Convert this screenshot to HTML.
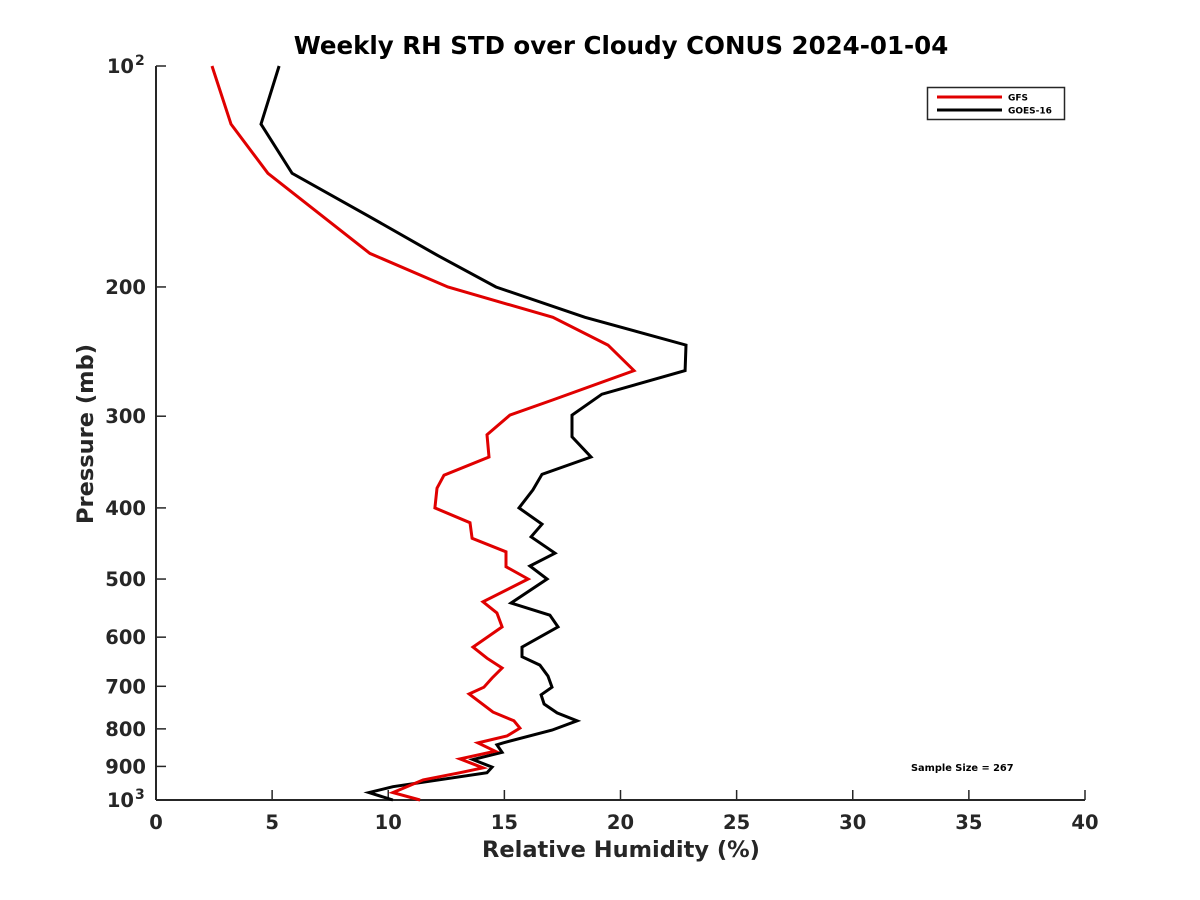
<!DOCTYPE html>
<html><head><meta charset="utf-8"><style>
html,body{margin:0;padding:0;background:#fff;}
svg{display:block;font-family:"DejaVu Sans","Liberation Sans",sans-serif;}
</style></head><body>
<svg id="chart" width="1200" height="900" viewBox="0 0 1200 900">
<rect width="1200" height="900" fill="#fff"/>
<text x="621" y="54" text-anchor="middle" font-size="24.5" font-weight="bold" fill="#000">Weekly RH STD over Cloudy CONUS 2024-01-04</text>
<g id="axes"></g>
<g id="series"></g>
<text x="621" y="857" text-anchor="middle" font-size="22.5" font-weight="bold" fill="#262626">Relative Humidity (%)</text>
<text transform="translate(93,434) rotate(-90)" text-anchor="middle" font-size="22.5" font-weight="bold" fill="#262626">Pressure (mb)</text>
<text x="911" y="771" font-size="9.8" font-weight="bold" fill="#000">Sample Size = 267</text>
<g>
<rect x="927.5" y="87.5" width="137" height="32" fill="#fff" stroke="#262626" stroke-width="1.5"/>
<line x1="937" y1="97" x2="1002" y2="97" stroke="#e00000" stroke-width="3"/>
<text x="1008" y="100.5" font-size="9" font-weight="bold" fill="#000">GFS</text>
<line x1="937" y1="110" x2="1002" y2="110" stroke="#000" stroke-width="3"/>
<text x="1008" y="113.5" font-size="9" font-weight="bold" fill="#000">GOES-16</text>
</g>
</svg>
<script>
const xTicks = [0,5,10,15,20,25,30,35,40];
const yTicks = [100,200,300,400,500,600,700,800,900,1000];
const yTickLabels = ["10^2","200","300","400","500","600","700","800","900","10^3"];
const gfsRH = [2.41,3.23,4.82,9.21,12.57,17.09,19.46,20.58,17.09,15.24,14.25,14.34,12.40,12.10,12.01,13.52,13.61,15.07,15.07,16.02,14.08,14.68,14.90,13.65,14.25,14.90,14.47,14.12,13.48,14.51,15.41,15.67,15.11,13.86,14.60,13.09,14.08,13.09,11.50,10.20,11.37];
const gfsP = [100,120,140,180,200,220,240,260,285,299,318,341,361,376,400,419,440,459,481,500,537,556,581,619,641,661,682,702,717,759,780,798,818,836,858,879,904,918,939,977,1000];
const goesRH = [5.30,4.52,5.86,9.13,12.10,14.64,18.47,22.82,22.78,19.20,17.91,17.91,18.73,16.62,16.23,15.63,16.62,16.15,17.18,16.10,16.84,15.29,16.96,17.31,15.76,15.76,16.53,16.88,17.05,16.58,16.71,17.27,18.13,17.05,14.94,14.68,14.90,13.65,14.47,14.25,10.20,9.17,10.20];
const goesP = [100,120,140,160,181,200,220,240,260,280,299,320,341,360,378,400,421,438,461,480,500,539,560,581,619,638,655,678,702,719,740,761,780,803,836,841,861,881,902,918,959,977,1000];

const X0=156, X1=1085, Y0=66, Y1=800;
function xs(v){return X0+(v-0)/(40-0)*(X1-X0);}
function ys(p){return Y0+(Math.log10(p)-2)/(3-2)*(Y1-Y0);}
const NS="http://www.w3.org/2000/svg";
function mk(tag,attrs,parent){const e=document.createElementNS(NS,tag);for(const k in attrs)e.setAttribute(k,attrs[k]);parent.appendChild(e);return e;}
const axes=document.getElementById('axes');
const series=document.getElementById('series');

let el=mk('line',{x1:X0,y1:Y0,x2:X0,y2:Y1,stroke:'#262626','stroke-width':2},axes);


el=mk('line',{x1:X0,y1:Y1,x2:X1,y2:Y1,stroke:'#262626','stroke-width':2},axes);



xTicks.forEach(v=>{
  const x=xs(v);
  const t=mk('line',{x1:x,y1:Y1,x2:x,y2:Y1-10,stroke:'#262626','stroke-width':1.5},axes);
  
  
  const l=mk('text',{x:x,y:Y1+29,'text-anchor':'middle','font-size':19.5,'font-weight':'bold',fill:'#262626'},axes);
  l.textContent=String(v);
  
  
});
yTicks.forEach((p,i)=>{
  const y=ys(p);
  const t=mk('line',{x1:X0,y1:y,x2:X0+10,y2:y,stroke:'#262626','stroke-width':1.5},axes);
  
  
  const lab=yTickLabels[i];
  const l=mk('text',{x:146,y:y+7,'text-anchor':'end','font-size':19.5,'font-weight':'bold',fill:'#262626'},axes);
  if(lab.indexOf('^')>=0){
    const parts=lab.split('^');
    l.setAttribute('x',134);
    l.textContent=parts[0];
    const s=mk('text',{x:135,y:y-1,'text-anchor':'start','font-size':14,'font-weight':'bold',fill:'#262626'},axes);
    s.textContent=parts[1];
    
    
  } else l.textContent=lab;
  
  
});

function line(rh,p,color,name){
  const pts=rh.map((v,i)=>xs(v).toFixed(1)+','+ys(p[i]).toFixed(1)).join(' ');
  const pl=mk('polyline',{points:pts,fill:'none',stroke:color,'stroke-width':3,'stroke-linejoin':'miter'},series);
  
  
}
line(goesRH,goesP,'#000','goes-16-line');
line(gfsRH,gfsP,'#e00000','gfs-line');
</script>
</body></html>
